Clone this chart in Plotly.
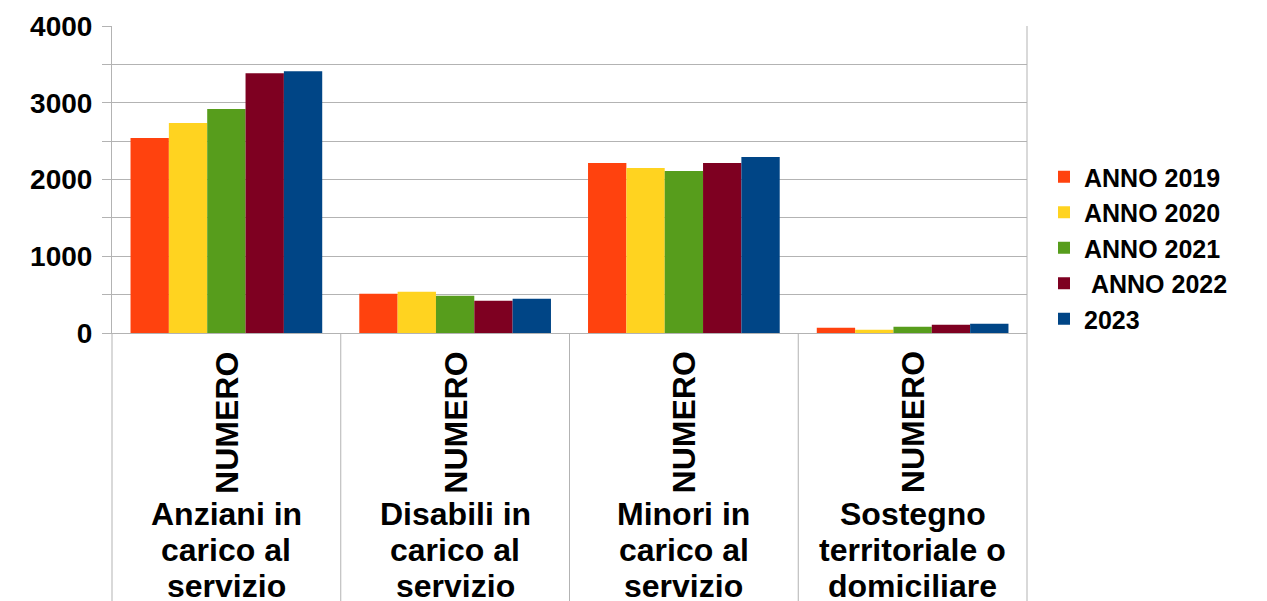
import plotly.graph_objects as go

categories = ["Anziani in carico al servizio", "Disabili in carico al servizio",
              "Minori in carico al servizio", "Sostegno territoriale o domiciliare"]
category_lines = [["Anziani in", "carico al", "servizio"],
                  ["Disabili in", "carico al", "servizio"],
                  ["Minori in", "carico al", "servizio"],
                  ["Sostegno", "territoriale o", "domiciliare"]]
sub_label = "NUMERO"
series_names = ["ANNO 2019", "ANNO 2020", "ANNO 2021", "\u00a0ANNO 2022", "2023"]
v2019 = [2540, 511, 2215, 69]
v2020 = [2735, 537, 2150, 43]
v2021 = [2917, 485, 2111, 82]
v2022 = [3385, 420, 2215, 108]
v2023 = [3411, 446, 2293, 121]
series_values = [v2019, v2020, v2021, v2022, v2023]
colors = ["#ff420e", "#ffd320", "#579d1c", "#7e0021", "#004586"]
y_ticks = [0, 1000, 2000, 3000, 4000]

FONT = "Liberation Sans, Arial, sans-serif"
GRID = "#b3b3b3"

fig = go.Figure()
for i, (name, vals, col) in enumerate(zip(series_names, series_values, colors)):
    fig.add_trace(go.Bar(x=list(range(len(categories))), y=vals, name=name,
                         marker=dict(color=col, line=dict(width=0)),
                         legendgroup=f"g{i}"))

# page body has an 8px margin; layout below is expressed in window pixels
OFF = 8
W, H = 1267, 601
L, R, T, B = 112 - OFF, 1027 - OFF, 26 - OFF, 333 - OFF
ph = B - T

def py(p):
    return (B - (p - OFF)) / ph

fig.update_layout(
    width=W, height=H,
    margin=dict(l=L, r=W - R, t=T, b=H - B, autoexpand=False),
    paper_bgcolor="white", plot_bgcolor="white",
    barmode="group", bargap=0.162, bargroupgap=0,
    font=dict(family=FONT, color="black"),
    showlegend=True,
    legend=dict(x=(1044 - OFF - L) / (R - L), xanchor="left", y=py(154), yanchor="top",
                font=dict(size=25, family=FONT, color="black", weight="bold"),
                tracegroupgap=0, bgcolor="rgba(0,0,0,0)"),
    xaxis=dict(range=[-0.5, len(categories) - 0.5], showticklabels=False,
               showgrid=False, zeroline=False, showline=True, linecolor=GRID,
               linewidth=1, ticks=""),
    yaxis=dict(range=[0, 4000], tickvals=y_ticks, ticktext=[str(v) for v in y_ticks],
               showgrid=True, gridcolor=GRID, gridwidth=1, zeroline=False,
               showline=True, linecolor=GRID, linewidth=1,
               ticks="outside", ticklen=9, tickcolor=GRID, ticklabelstandoff=4,
               tickfont=dict(size=28, family=FONT, color="black", weight="bold"),
               minor=dict(dtick=500, showgrid=True, gridcolor=GRID, gridwidth=1,
                          ticks="outside", ticklen=9, tickcolor=GRID)),
)

n = len(categories)
# separators of the category axis (and right border)
for k in range(n + 1):
    fig.add_shape(type="line", xref="x domain", yref="paper",
                  x0=k / n, x1=k / n, y0=py(601 + 10), y1=(0 if k < n else 1),
                  line=dict(color=GRID, width=1))

for i in range(n):
    fig.add_annotation(x=i, xref="x", y=py(422.5), yref="paper", text=sub_label,
                       textangle=-90, showarrow=False, xanchor="center", yanchor="middle",
                       font=dict(size=32, family=FONT, color="black", weight="bold"))
    for j, line in enumerate(category_lines[i]):
        fig.add_annotation(x=i, xref="x", y=py(514 + 36 * j), yref="paper", text=line,
                           showarrow=False, xanchor="center", yanchor="middle",
                           font=dict(size=32, family=FONT, color="black", weight="bold"))

fig.write_html("out.html")
